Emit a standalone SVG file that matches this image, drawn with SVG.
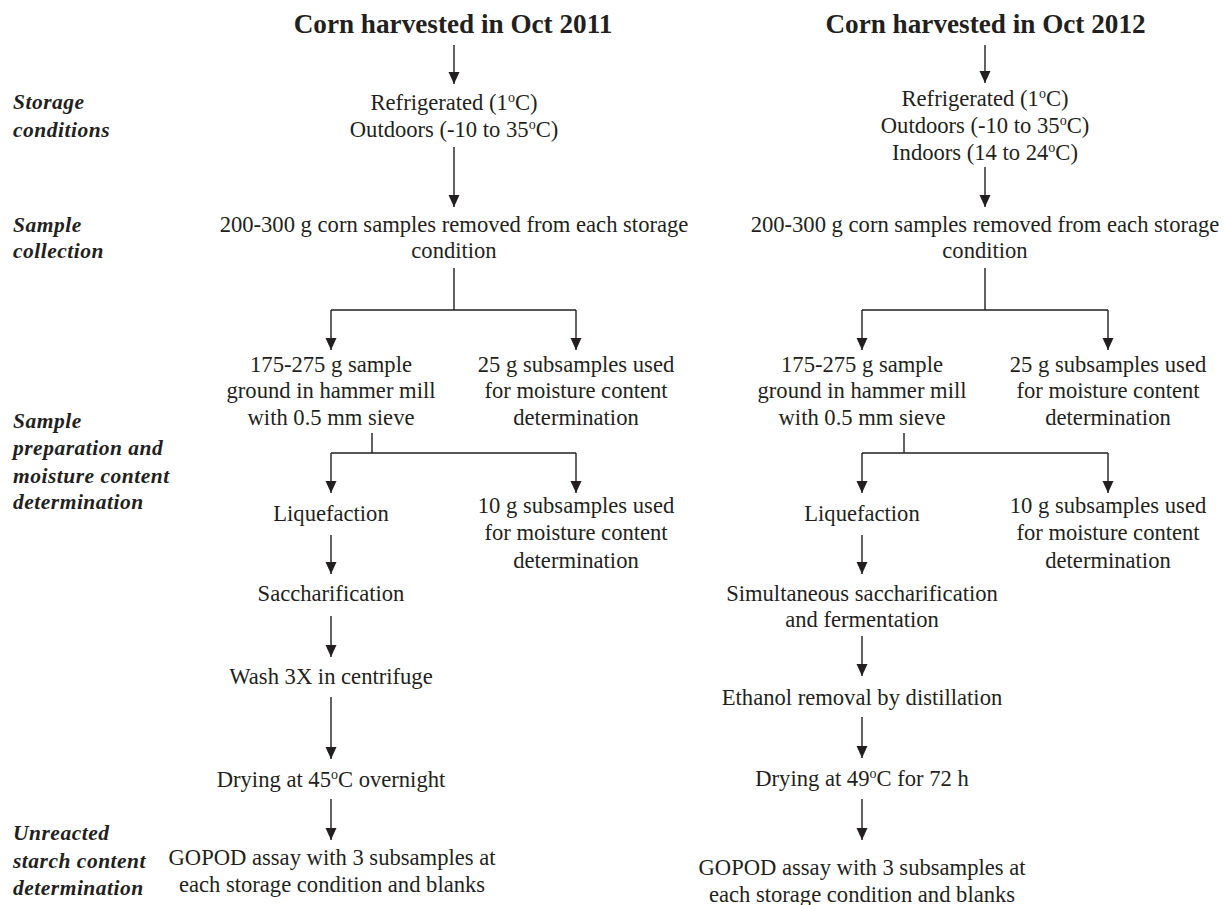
<svg xmlns="http://www.w3.org/2000/svg" width="1228" height="905" viewBox="0 0 1228 905">
<style>
text{font-family:"Liberation Serif","Times New Roman",serif;fill:#231f20;}
.t{font-size:22.6px;text-anchor:middle;}
.h{font-size:27.2px;font-weight:bold;text-anchor:middle;}
.l{font-size:21.5px;font-weight:bold;font-style:italic;letter-spacing:0.5px;}
.c{fill:none;stroke:#231f20;stroke-width:1.4;}
.a{marker-end:url(#ah);}
</style>
<defs>
<marker id="ah" viewBox="0 0 12 12" refX="12" refY="6" markerWidth="12" markerHeight="12" markerUnits="userSpaceOnUse" orient="auto">
<path d="M0,0.5 L12,6 L0,11.5 z" fill="#231f20"/>
</marker>
</defs>
<rect width="1228" height="905" fill="#fff"/>
<g id="labels">
<g id="lab-storage"><text class="l" x="13" y="109">Storage</text><text class="l" x="13" y="137">conditions</text></g>
<g id="lab-collection"><text class="l" x="13" y="232">Sample</text><text class="l" x="13" y="258">collection</text></g>
<g id="lab-prep"><text class="l" x="13" y="428">Sample</text><text class="l" x="13" y="455">preparation and</text><text class="l" x="13" y="483">moisture content</text><text class="l" x="13" y="509">determination</text></g>
<g id="lab-starch"><text class="l" x="13" y="840">Unreacted</text><text class="l" x="13" y="868">starch content</text><text class="l" x="13" y="895">determination</text></g>
</g>
<g id="connectors">
<path class="c a" d="M454,45 V84"/>
<path class="c a" d="M454,147 V207"/>
<path class="c" d="M454,268 V310 M331,310 H576"/>
<path class="c a" d="M331,310 V350"/>
<path class="c a" d="M576,310 V350"/>
<path class="c" d="M372,433 V453 M331,453 H576"/>
<path class="c a" d="M331,453 V493"/>
<path class="c a" d="M576,453 V493"/>
<path class="c a" d="M331,535 V574"/>
<path class="c a" d="M331,616 V657"/>
<path class="c a" d="M331,697 V759"/>
<path class="c a" d="M331,799 V840"/>
<path class="c a" d="M985,45 V83"/>
<path class="c a" d="M985,167 V207"/>
<path class="c" d="M985,268 V310 M862,310 H1108"/>
<path class="c a" d="M862,310 V350"/>
<path class="c a" d="M1108,310 V350"/>
<path class="c" d="M904,433 V453 M862,453 H1108"/>
<path class="c a" d="M862,453 V493"/>
<path class="c a" d="M1108,453 V493"/>
<path class="c a" d="M862,535 V574"/>
<path class="c a" d="M862,636 V676"/>
<path class="c a" d="M862,717 V758"/>
<path class="c a" d="M862,799 V840"/>
</g>
<g id="title2011"><text class="h" x="453" y="33">Corn harvested in Oct 2011</text></g>
<g id="storage2011"><text class="t" x="454" y="110">Refrigerated (1<tspan font-size="14" dy="-8">o</tspan><tspan dy="8">C)</tspan></text><text class="t" x="454" y="137">Outdoors (-10 to 35<tspan font-size="14" dy="-8">o</tspan><tspan dy="8">C)</tspan></text></g>
<g id="collect2011"><text class="t" x="454" y="232">200-300 g corn samples removed from each storage</text><text class="t" x="454" y="258">condition</text></g>
<g id="ground2011"><text class="t" x="331" y="372">175-275 g sample</text><text class="t" x="331" y="398">ground in hammer mill</text><text class="t" x="331" y="425">with 0.5 mm sieve</text></g>
<g id="moist25-2011"><text class="t" x="576" y="372">25 g subsamples used</text><text class="t" x="576" y="398">for moisture content</text><text class="t" x="576" y="425">determination</text></g>
<g id="liq2011"><text class="t" x="331" y="521">Liquefaction</text></g>
<g id="moist10-2011"><text class="t" x="576" y="513">10 g subsamples used</text><text class="t" x="576" y="540">for moisture content</text><text class="t" x="576" y="568">determination</text></g>
<g id="sacch2011"><text class="t" x="331" y="601">Saccharification</text></g>
<g id="wash2011"><text class="t" x="331" y="684">Wash 3X in centrifuge</text></g>
<g id="dry2011"><text class="t" x="331" y="787">Drying at 45<tspan font-size="14" dy="-8">o</tspan><tspan dy="8">C overnight</tspan></text></g>
<g id="gopod2011"><text class="t" x="332" y="865">GOPOD assay with 3 subsamples at</text><text class="t" x="332" y="892">each storage condition and blanks</text></g>
<g id="title2012"><text class="h" x="985.5" y="33">Corn harvested in Oct 2012</text></g>
<g id="storage2012"><text class="t" x="985" y="106">Refrigerated (1<tspan font-size="14" dy="-8">o</tspan><tspan dy="8">C)</tspan></text><text class="t" x="985" y="133">Outdoors (-10 to 35<tspan font-size="14" dy="-8">o</tspan><tspan dy="8">C)</tspan></text><text class="t" x="985" y="160">Indoors (14 to 24<tspan font-size="14" dy="-8">o</tspan><tspan dy="8">C)</tspan></text></g>
<g id="collect2012"><text class="t" x="985" y="232">200-300 g corn samples removed from each storage</text><text class="t" x="985" y="258">condition</text></g>
<g id="ground2012"><text class="t" x="862" y="372">175-275 g sample</text><text class="t" x="862" y="398">ground in hammer mill</text><text class="t" x="862" y="425">with 0.5 mm sieve</text></g>
<g id="moist25-2012"><text class="t" x="1108" y="372">25 g subsamples used</text><text class="t" x="1108" y="398">for moisture content</text><text class="t" x="1108" y="425">determination</text></g>
<g id="liq2012"><text class="t" x="862" y="521">Liquefaction</text></g>
<g id="moist10-2012"><text class="t" x="1108" y="513">10 g subsamples used</text><text class="t" x="1108" y="540">for moisture content</text><text class="t" x="1108" y="568">determination</text></g>
<g id="ssf2012"><text class="t" x="862" y="601">Simultaneous saccharification</text><text class="t" x="862" y="627">and fermentation</text></g>
<g id="ethanol2012"><text class="t" x="862" y="705">Ethanol removal by distillation</text></g>
<g id="dry2012"><text class="t" x="862" y="786">Drying at 49<tspan font-size="14" dy="-8">o</tspan><tspan dy="8">C for 72 h</tspan></text></g>
<g id="gopod2012"><text class="t" x="862" y="875">GOPOD assay with 3 subsamples at</text><text class="t" x="862" y="902">each storage condition and blanks</text></g>
</svg>
